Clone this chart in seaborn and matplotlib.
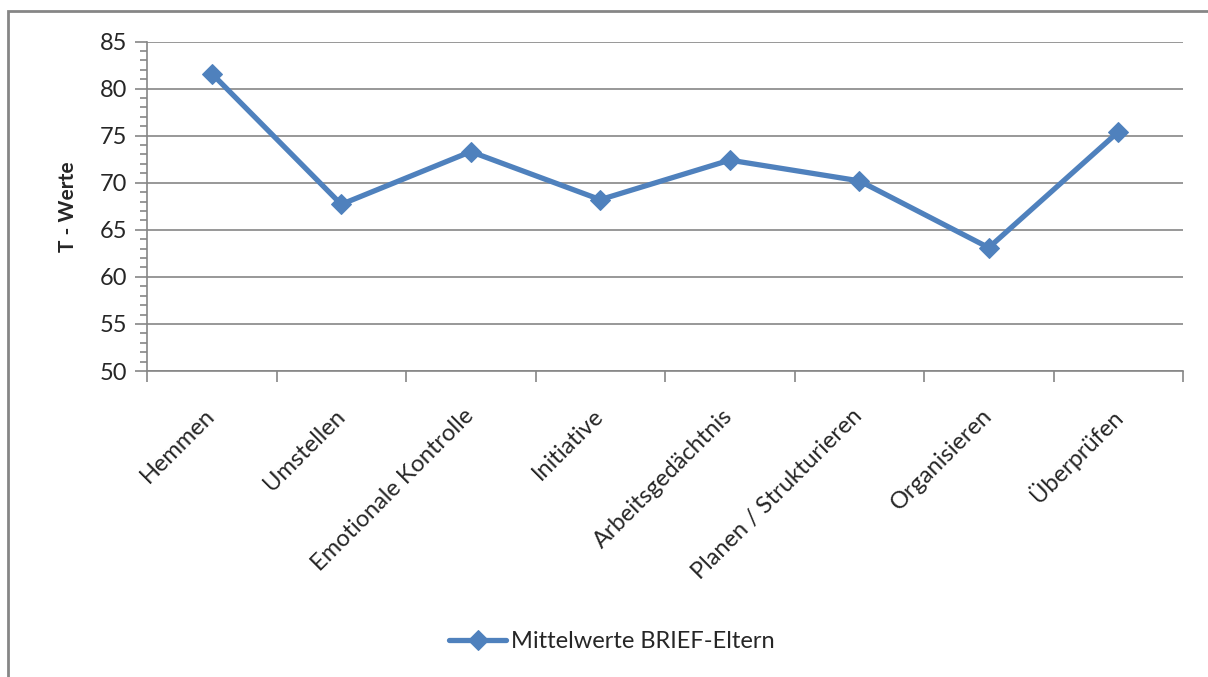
import matplotlib
matplotlib.use('Agg')
import matplotlib.pyplot as plt
import seaborn as sns
import pandas as pd
from matplotlib.patches import Rectangle
from matplotlib.ticker import MultipleLocator, FixedLocator

# data
categories = ['Hemmen', 'Umstellen', 'Emotionale Kontrolle', 'Initiative',
              'Arbeitsgedächtnis', 'Planen / Strukturieren', 'Organisieren', 'Überprüfen']
t_werte = [81.6, 67.7, 73.3, 68.2, 72.4, 70.2, 63.1, 75.4]
series_name = 'Mittelwerte BRIEF-Eltern'

df = pd.DataFrame({'Skala': categories, 'T': t_werte})

sns.set_style('white')
plt.rcParams['font.family'] = ['Lato', 'DejaVu Sans']

blue = '#4F81BD'
grey = '#868686'

fig = plt.figure(figsize=(12.08, 6.77), dpi=100)
ax = fig.add_axes([147 / 1208, 1 - 371 / 677, (1183 - 147) / 1208, (371 - 41.5) / 677])

sns.lineplot(data=df, x='Skala', y='T', ax=ax, color=blue, linewidth=3.8,
             marker='D', markersize=10, markeredgecolor=blue, label=series_name,
             sort=False)

ax.set_xlim(-0.5, len(categories) - 0.5)
ax.set_ylim(50, 85)
ax.yaxis.set_major_locator(MultipleLocator(5))
ax.yaxis.set_minor_locator(MultipleLocator(1))
ax.grid(axis='y', color=grey, linewidth=1.2)
ax.set_axisbelow(True)

for s in ['top', 'right']:
    ax.spines[s].set_visible(False)
for s in ['left', 'bottom']:
    ax.spines[s].set_color(grey)
    ax.spines[s].set_linewidth(1.2)

ax.tick_params(axis='y', which='major', direction='out', length=9, width=1.2,
               color=grey, labelsize=17, pad=5, left=True)
ax.tick_params(axis='y', which='minor', direction='out', length=5, width=1.2,
               color=grey, left=True)

ax.set_xticks(range(len(categories)))
ax.set_xticklabels(categories, rotation=45, ha='right', va='center',
                   rotation_mode='anchor', fontsize=17)
ax.xaxis.set_minor_locator(FixedLocator([i - 0.5 for i in range(len(categories) + 1)]))
ax.tick_params(axis='x', which='major', length=0, pad=30)
ax.tick_params(axis='x', which='minor', direction='out', length=8, width=1.2,
               color=grey, bottom=True)

ax.set_xlabel('')
ax.set_ylabel('T - Werte', fontsize=15, fontweight='bold', labelpad=16)

leg = ax.legend(loc='center', bbox_to_anchor=(612 / 1208, 1 - 642 / 677),
                bbox_transform=fig.transFigure, frameon=False, fontsize=17,
                handlelength=2.4, handletextpad=0.2)

# outer chart frame
fig.patches.append(Rectangle((8 / 1208, -0.05), 1.1, 1 - 11 / 677 + 0.05,
                             transform=fig.transFigure, fill=False,
                             edgecolor=grey, linewidth=2, zorder=0))

fig.savefig('out.png', dpi=100, facecolor='white')
